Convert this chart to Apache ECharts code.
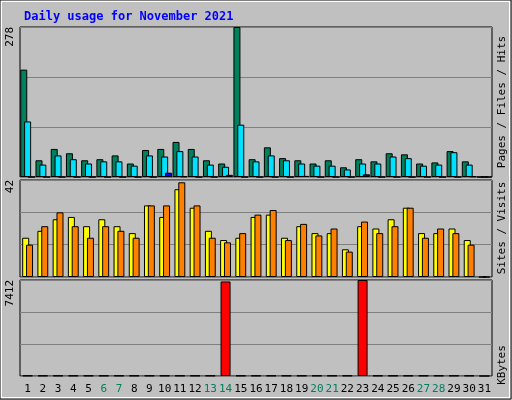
<!DOCTYPE html>
<html>
<head>
<meta charset="UTF-8">
<script src="https://cdn.jsdelivr.net/npm/echarts@6/dist/echarts.min.js"></script>
<style>html,body{margin:0;padding:0;background:#c0c0c0;}#main{width:512px;height:400px;}</style>
</head>
<body>
<div id="main"></div>
<script>
var days = [];
for (var d = 1; d <= 31; d++) days.push(String(d));
var weekend = ['6','7','13','14','20','21','27','28'];
var hits   = [199,31,52,44,31,33,40,25,50,52,65,52,31,25,278,33,55,35,31,25,31,18,33,29,44,42,25,27,48,29,0];
var files  = [103,23,40,33,25,29,29,21,40,38,48,38,23,19,97,29,40,31,25,21,21,14,25,25,38,35,21,23,46,23,0];
var pages  = [0,0,0,0,0,0,0,0,0,8,1,0,0,4,0,0,0,0,2,0,0,0,5,0,0,0,0,0,0,1,0];
var sites  = [17,20,25,26,22,25,22,19,31,26,38,30,20,16,17,26,27,17,22,19,19,12,22,21,25,30,19,19,21,16,0];
var visits = [14,22,28,22,17,22,20,17,31,31,41,31,17,15,19,27,29,16,23,18,21,11,24,19,22,30,17,21,19,14,0];
var kbytes = [30,30,30,30,30,30,30,30,30,30,30,30,30,7300,30,30,30,30,30,30,30,30,7412,30,30,30,30,30,30,30,0];
var maxes = [278, 42, 7412];

var font = 'DejaVu Sans Mono';
var grids = [
  {left: 20, right: 20, top: 27, height: 150},
  {left: 20, right: 20, top: 180, height: 97},
  {left: 20, right: 20, top: 280, height: 96}
];
function xAxis(i) {
  return {
    type: 'category', gridIndex: i, data: days,
    axisTick: {show: false}, axisLine: {show: false},
    axisLabel: {show: i == 2, interval: 0, fontFamily: font, fontSize: 11, margin: 8,
      color: function (v) { return weekend.indexOf(v) >= 0 ? '#00805c' : '#000'; }}
  };
}
function yAxis(i) {
  var m = maxes[i];
  return {
    type: 'value', gridIndex: i, min: 0, max: m, interval: m / 3,
    axisLine: {show: false}, axisTick: {show: false},
    splitLine: {lineStyle: {color: '#808080', width: 1}},
    axisLabel: {rotate: 90, fontFamily: font, fontSize: 11, color: '#000', margin: 4,
      verticalAlign: 'bottom', align: 'right',
      formatter: function (v) { return Math.abs(v - m) < 0.5 ? String(m) : ''; }}
  };
}
function bar(name, data, color, ax) {
  return {name: name, type: 'bar', data: data, xAxisIndex: ax, yAxisIndex: ax,
    barWidth: 7, barGap: '-45%', animation: false,
    itemStyle: {color: color, borderColor: '#000', borderWidth: 1}};
}
function sideLabel(y, text, rich) {
  return {type: 'text', x: 497, y: y, rotation: Math.PI / 2,
    style: {text: text, rich: rich, fontFamily: font, fontSize: 11, align: 'center', verticalAlign: 'top'}};
}
var chart = echarts.init(document.getElementById('main'));
chart.setOption({
  backgroundColor: '#c0c0c0',
  title: {text: 'Daily usage for November 2021', left: 19, top: 6,
    textStyle: {fontFamily: font, fontSize: 12, fontWeight: 'bold', color: '#0000ff'}},
  grid: grids.map(function (g) {
    return Object.assign({show: true, backgroundColor: '#c0c0c0', borderColor: '#000', borderWidth: 1}, g);
  }),
  xAxis: [xAxis(0), xAxis(1), xAxis(2)],
  yAxis: [yAxis(0), yAxis(1), yAxis(2)],
  series: [
    bar('Hits', hits, '#00805c', 0),
    bar('Files', files, '#00e0ff', 0),
    bar('Pages', pages, '#0000ff', 0),
    bar('Sites', sites, '#ffff00', 1),
    bar('Visits', visits, '#ff8000', 1),
    {name: 'KBytes', type: 'bar', data: kbytes, xAxisIndex: 2, yAxisIndex: 2, barWidth: 10, animation: false,
      itemStyle: {color: '#ff0000', borderColor: '#000', borderWidth: 1}}
  ],
  graphic: [
    {type: 'rect', shape: {x: 1, y: 1, width: 509, height: 397}, style: {fill: 'none', stroke: '#fff', lineWidth: 2}},
    {type: 'rect', shape: {x: 0, y: 0, width: 511, height: 399}, style: {fill: 'none', stroke: '#000', lineWidth: 1}},
    sideLabel(102, '{p|Pages} / {f|Files} / {h|Hits}', {p: {color: '#00e0ff'}, f: {color: '#0000ff'}, h: {color: '#00805c'}}),
    sideLabel(228, '{s|Sites} / {v|Visits}', {s: {color: '#ff8000'}, v: {color: '#ffff00'}}),
    sideLabel(365, '{k|KBytes}', {k: {color: '#ff0000'}})
  ]
});
</script>
</body>
</html>
